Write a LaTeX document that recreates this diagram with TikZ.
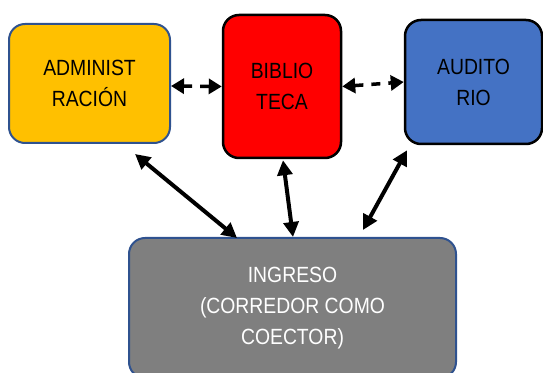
\documentclass[tikz,border=0pt]{standalone}
\usepackage{fontspec}
\setmainfont{Liberation Sans}[FakeStretch=0.88]
\usetikzlibrary{positioning,arrows.meta,calc}

\definecolor{adminfill}{HTML}{FFC000}
\definecolor{auditofill}{HTML}{4472C4}
\definecolor{ingresofill}{HTML}{7F7F7F}
\definecolor{edgeblue}{HTML}{2F528F}

\tikzset{
  box/.style={draw, rectangle, rounded corners=16pt, align=center,
    font={\fontsize{22}{31}\selectfont}},
  link/.style={line width=4pt, {Triangle[length=15pt,width=15pt]}-{Triangle[length=15pt,width=15pt]}},
  dashlink/.style={line width=3.5pt, dash pattern=on 9pt off 8pt,
    {Triangle[length=13pt,width=15pt]}-{Triangle[length=13pt,width=15pt]}}
}

\begin{document}
\begin{tikzpicture}[x=1pt, y=1pt]
  \useasboundingbox (0,0) rectangle (543,372);

  \node[box, draw=edgeblue, line width=2pt, fill=adminfill, minimum width=161pt, minimum height=119pt] (Admin) at (89.5,288.5) {ADMINIST\\RACIÓN};
  \node[box, line width=2.5pt, fill=red, minimum width=118pt, minimum height=143pt] (Biblio) at (282,285.5) {BIBLIO\\TECA};
  \node[box, line width=2.5pt, fill=auditofill, minimum width=137pt, minimum height=124pt] (Audito) at (473.5,290) {AUDITO\\RIO};
  \node[box, draw=edgeblue, line width=2pt, fill=ingresofill, text=white, minimum width=327pt, minimum height=140pt] (Ingreso) at (292.5,64) {INGRESO\\(CORREDOR COMO\\COECTOR)};

  \draw[dashlink] ([yshift=-2.5pt]Admin.east) -- (Biblio.west);
  \draw[dashlink] (Biblio.east) -- (Audito.west);

  \draw[link] ([shift={(45.5,-10)}]Admin.south) -- ([shift={(-55.5,-1)}]Ingreso.north);
  \draw[link] ([shift={(1,-1)}]Biblio.south) -- ([shift={(0.5,0)}]Ingreso.north);
  \draw[link] ([shift={(-66.5,-5)}]Audito.south) -- ([shift={(70.5,7)}]Ingreso.north);
\end{tikzpicture}
\end{document}
